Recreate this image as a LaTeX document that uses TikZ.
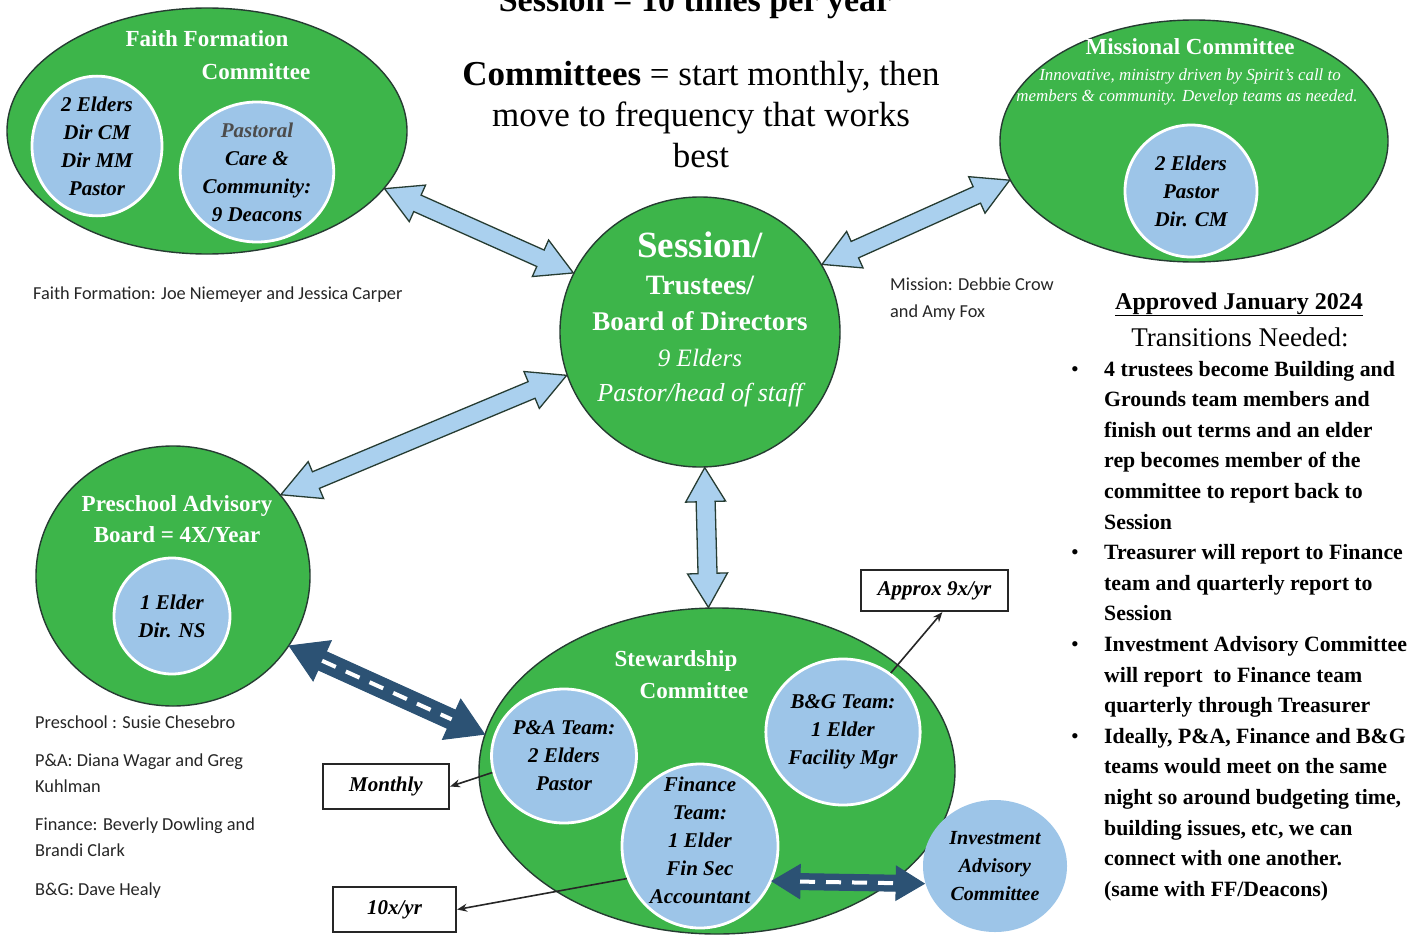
\documentclass[tikz,border=0pt]{standalone}
\usepackage{fontspec}
\setmainfont{Liberation Serif}
\newfontfamily\calibfont{Carlito}
\usetikzlibrary{calc,shapes.geometric,arrows.meta}
\definecolor{grn}{RGB}{61,181,74}
\definecolor{lblue}{RGB}{157,197,232}
\definecolor{arrblue}{RGB}{170,208,238}
\definecolor{darkblu}{RGB}{44,82,116}
\definecolor{edgec}{RGB}{38,60,50}
\newcommand\fsz[2]{\fontsize{#1}{#2}\selectfont}
\newcommand\dblarrow[6]{%
  \coordinate (ha) at ($(#1)!#6!(#2)$);
  \coordinate (hb) at ($(#2)!#6!(#1)$);
  \draw[#3] (#1) -- ($(ha)!#5!90:(#2)$) -- ($(ha)!#4!90:(#2)$) -- ($(hb)!#4!-90:(#1)$) -- ($(hb)!#5!-90:(#1)$) -- (#2) -- ($(hb)!#5!90:(#1)$) -- ($(hb)!#4!90:(#1)$) -- ($(ha)!#4!-90:(#2)$) -- ($(ha)!#5!-90:(#2)$) -- cycle;
}
\tikzset{
 bigell/.style={ellipse, draw=edgec, line width=1.4pt, fill=grn, inner sep=0pt},
 incirc/.style={ellipse, draw=white, line width=2.8pt, fill=lblue, inner sep=0pt, align=center, font=\fsz{21}{28}\bfseries\itshape},
 intext/.style={align=center, inner sep=0pt, font=\fsz{21}{28}\bfseries\itshape},
 wtitle/.style={text=white, font=\fsz{23}{28}\bfseries, inner sep=0pt, anchor=base},
 lightarrow/.style={draw=edgec, fill=arrblue, line width=1.3pt, line join=miter},
 darkarrow/.style={draw=darkblu, fill=darkblu, line width=1pt, line join=miter},
 dashline/.style={draw=white, line width=4pt, dash pattern=on 15pt off 11pt},
 boxlab/.style={draw=black!85, line width=2.2pt, fill=white, font=\fsz{21}{25}\bfseries\itshape, inner sep=0pt},
 namet/.style={font=\calibfont\fsz{18.3}{22}, anchor=base west, inner sep=0pt, text=black!85},
 rtext/.style={font=\fsz{21.8}{30}\bfseries, anchor=base west, inner sep=0pt},
 toptext/.style={font=\fsz{35}{41}, anchor=base, inner sep=0pt},
 thinarr/.style={-{Stealth[length=10pt,width=8pt]}, line width=1.6pt, draw=black!85},
}
\begin{document}
\begin{tikzpicture}[x=1pt,y=-1pt]
\useasboundingbox (0,0) rectangle (1410,934);
\fill[white] (0,0) rectangle (1410,934);

% title
\node[font=\fsz{34}{40}\bfseries, anchor=base, inner sep=0pt] (title) at (695,12) {Session = 10 times per year};
\node[toptext] (c1) at (701,85) {\textbf{Committees} = start monthly, then};
\node[toptext] (c2) at (701,126) {move to frequency that works};
\node[toptext] (c3) at (701,167) {best};

% big ellipses
\node[bigell, minimum width=400pt, minimum height=246pt] (faith) at (207,131) {};
\node[bigell, minimum width=388pt, minimum height=242pt] (missional) at (1194,141) {};
\node[bigell, minimum width=280pt, minimum height=270pt] (session) at (700,332) {};
\node[bigell, minimum width=274pt, minimum height=260pt] (preschool) at (173,576) {};
\node[bigell, minimum width=476pt, minimum height=326pt] (steward) at (717,771) {};

% titles
\node[wtitle] (ft1) at (207,47) {Faith Formation};
\node[wtitle] (ft2) at (256,79) {Committee};
\node[wtitle] (mt) at (1190,55) {Missional Committee};
\node[text=white, font=\fsz{16.9}{20}\itshape, anchor=base, inner sep=0pt] (ms1) at (1190,81) {Innovative, ministry driven by Spirit's call to};
\node[text=white, font=\fsz{16.9}{20}\itshape, anchor=base, inner sep=0pt] (ms2) at (1187,101) {members \& community. Develop teams as needed.};
\node[wtitle, font=\fsz{37}{40}\bfseries] (s1) at (700,257) {Session/};
\node[wtitle, font=\fsz{28}{30}\bfseries] (s2) at (700,294) {Trustees/};
\node[wtitle, font=\fsz{27}{30}\bfseries] (s3) at (700,330) {Board of Directors};
\node[wtitle, font=\fsz{25}{30}\itshape] (s4) at (700,366) {9 Elders};
\node[wtitle, font=\fsz{26}{30}\itshape] (s5) at (700,401) {Pastor/head of staff};
\node[wtitle] (pt1) at (177,511) {Preschool Advisory};
\node[wtitle] (pt2) at (177,542) {Board = 4X/Year};
\node[wtitle] (st1) at (676,666) {Stewardship};
\node[wtitle] (st2) at (694,698) {Committee};

% inner circles
\node[incirc, minimum width=130pt, minimum height=128pt] (ffelders) at (97,146) {2 Elders\\Dir CM\\Dir MM\\Pastor};
\node[incirc, minimum size=140pt] (ffpastoral) at (257,172) {{\color{black!70}Pastoral}\\Care \&\\Community:\\9 Deacons};
\node[incirc, minimum size=132pt] (misscirc) at (1191,191) {2 Elders\\Pastor\\Dir. CM};
\node[incirc, minimum size=116pt] (prescirc) at (172,616) {1 Elder\\Dir. NS};
\node[incirc, minimum size=134pt] (pa) at (564,756) {P\&A Team:\\2 Elders\\Pastor};
\node[incirc, minimum size=146pt] (bg) at (843,732) {B\&G Team:\\1 Elder\\Facility Mgr};
\node[incirc, minimum width=156pt, minimum height=164pt] (fin) at (700,846) {};
\node[intext] (fintxt) at (700,840) {Finance\\Team:\\1 Elder\\Fin Sec\\Accountant};
\node[incirc, draw=none, minimum width=144pt, minimum height=132pt, font=\fsz{20}{28}\bfseries\itshape] (invest) at (995,866) {Investment\\Advisory\\Committee};

% block arrows
\dblarrow{faith.-18}{session.155}{lightarrow}{9pt}{20pt}{36pt}
\dblarrow{missional.192}{session.29}{lightarrow}{9pt}{20pt}{36pt}
\dblarrow{preschool.37}{session.198}{lightarrow}{9pt}{20pt}{38pt}
\dblarrow{session.-88}{steward.93}{lightarrow}{9.5pt}{20pt}{34pt}
\dblarrow{preschool.-31}{steward.171}{darkarrow}{10pt}{22pt}{36pt}
\draw[dashline] (ha) -- (hb);
\dblarrow{fin.-26}{invest.194}{darkarrow}{8pt}{17pt}{28pt}
\draw[dashline] (ha) -- (hb);

% boxes
\node[boxlab, minimum width=147pt, minimum height=41pt] (approx) at (934.5,590.5) {Approx 9x/yr};
\node[boxlab, minimum width=126pt, minimum height=45pt] (monthly) at (386,786.5) {Monthly};
\node[boxlab, minimum width=123pt, minimum height=45pt] (tenx) at (394.5,909.5) {10x/yr};
\draw[thinarr] (bg.51) -- (approx.-70);
\draw[thinarr] (pa.193) -- (monthly.east);
\draw[thinarr] (fin.204) -- (tenx.east);

% names
\node[namet] (n1) at (33,299) {Faith Formation: Joe Niemeyer and Jessica Carper};
\node[namet] (n2) at (890,290) {Mission: Debbie Crow};
\node[namet] (n3) at (890,317) {and Amy Fox};
\node[namet] (n4) at (35,728) {Preschool : Susie Chesebro};
\node[namet] (n5) at (35,766) {P\&A: Diana Wagar and Greg};
\node[namet] (n6) at (35,792) {Kuhlman};
\node[namet] (n7) at (35,830) {Finance: Beverly Dowling and};
\node[namet] (n8) at (35,856) {Brandi Clark};
\node[namet] (n9) at (35,895) {B\&G: Dave Healy};

% right block
\node[font=\fsz{24}{28}\bfseries, anchor=base, inner sep=0pt] (appr) at (1239,309) {\underline{Approved January 2024}};
\node[font=\fsz{27}{30}, anchor=base, inner sep=0pt] (trans) at (1240,346) {Transitions Needed:};
\foreach \t [count=\i] in {{4 trustees become Building and},{Grounds team members and},{finish out terms and an elder},{rep becomes member of the},{committee to report back to},{Session},{Treasurer will report to Finance},{team and quarterly report to},{Session},{Investment Advisory Committee},{will report\ \ to Finance team},{quarterly through Treasurer},{Ideally, P\&A, Finance and B\&G},{teams would meet on the same},{night so around budgeting time,},{building issues, etc, we can},{connect with one another.},{(same with FF/Deacons)}}
  {\node[rtext] (r\i) at (1104,{376+(\i-1)*30.6}) {\t};}
\foreach \k in {1,7,10,13}
  {\node[font=\fsz{22}{22}, anchor=base, inner sep=0pt] (bul\k) at (1075,{376+(\k-1)*30.6}) {•};}
\end{tikzpicture}
\end{document}
